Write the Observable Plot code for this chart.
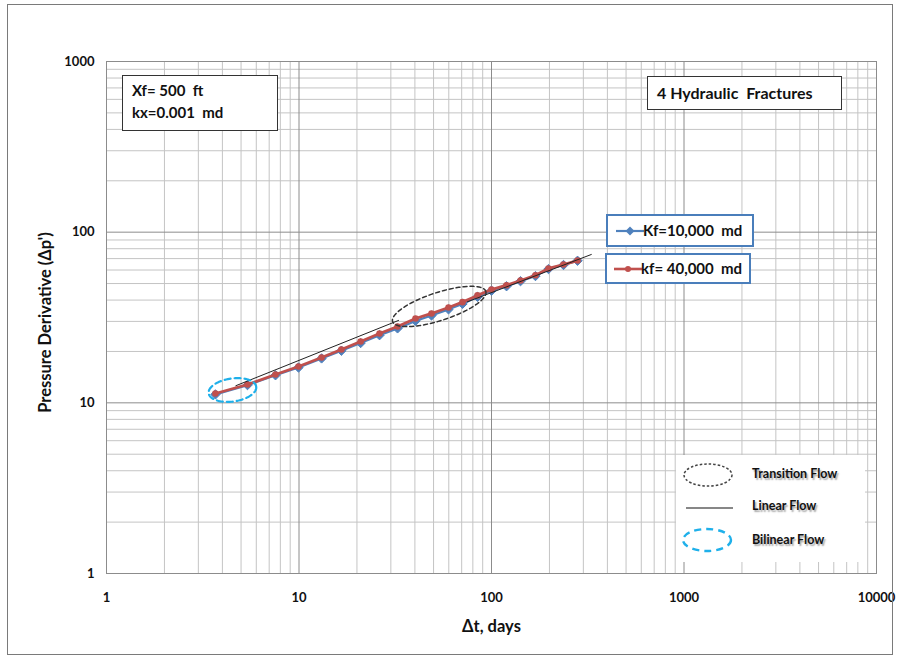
<!DOCTYPE html>
<html><head><meta charset="utf-8">
<script src="https://cdn.jsdelivr.net/npm/d3@7"></script>
<script src="https://cdn.jsdelivr.net/npm/@observablehq/plot@0.6"></script>
<style>
body{margin:0;background:#fff;font-family:Lato,"Liberation Sans",sans-serif;}
#wrap{position:relative;width:900px;height:659px;overflow:hidden;background:#fff;}
#wrap svg.plotsvg{position:absolute;left:0;top:0;}
#outer{position:absolute;left:7px;top:4px;width:886px;height:651px;border:1.5px solid #7a7a7a;box-sizing:border-box;pointer-events:none;}
.box{position:absolute;background:#fff;box-sizing:border-box;font-weight:bold;color:#111;white-space:pre;}
.abs{position:absolute;white-space:pre;font-weight:bold;color:#111;}
.shadow{text-shadow:1.5px 1.5px 1.5px rgba(0,0,0,0.35);font-size:12.5px;}
</style></head><body><div id="wrap"><div id="outer"></div></div>
<script>
// ---- data ----
const dtDays = [3.68, 5.40, 7.55, 9.94, 13.1, 16.6, 20.9, 26.2, 32.5, 40.3, 48.8, 59.8, 70.7, 84.6, 100, 119.7, 141.5, 169.2, 197.7, 236.6, 279.8];
const dpKf10000 = [11.2, 12.7, 14.5, 16.1, 18.2, 20.2, 22.4, 24.9, 27.3, 30.2, 32.5, 35.3, 38.0, 41.8, 45.4, 48.2, 51.6, 55.3, 60.8, 64.2, 68.0];
const dpKf40000 = [11.34, 12.81, 14.66, 16.33, 18.44, 20.53, 22.87, 25.48, 28.0, 31.2, 33.4, 36.2, 38.9, 42.6, 46.1, 48.9, 52.1, 55.9, 61.3, 64.6, 68.2];
const linearFlow1Dt = [4.7, 32.9];
const linearFlow1Dp = [12.6, 30.4];
const linearFlow2Dt = [75, 330];
const linearFlow2Dp = [39.1, 74.0];
const transitionCenter = [53.5, 36.7];   // dt, dp
const bilinearCenter = [4.51, 11.89];    // dt, dp
const xTickValues = [1, 10, 100, 1000, 10000];
const yTickValues = [1, 10, 100, 1000];

// ---- layout ----
const W = 900, H = 659, ML = 106, MR = 24, MT = 61, MB = 86;
const pxPerDecX = (W - ML - MR) / 4;
const pxPerDecY = (H - MT - MB) / 3;

const seriesBlue = dtDays.map((d, i) => ({dt: d, dp: dpKf10000[i]}));
const seriesRed = dtDays.map((d, i) => ({dt: d, dp: dpKf40000[i]}));
const lin1 = linearFlow1Dt.map((d, i) => ({dt: d, dp: linearFlow1Dp[i]}));
const lin2 = linearFlow2Dt.map((d, i) => ({dt: d, dp: linearFlow2Dp[i]}));

function ellipse(center, a, b, angDeg) {
  const phi = angDeg * Math.PI / 180, pts = [];
  for (let i = 0; i <= 96; i++) {
    const t = i / 96 * 2 * Math.PI;
    const ex = a * Math.cos(t), ey = b * Math.sin(t);
    const dx = ex * Math.cos(phi) - ey * Math.sin(phi);
    const dy = ex * Math.sin(phi) + ey * Math.cos(phi);
    pts.push({dt: center[0] * Math.pow(10, dx / pxPerDecX), dp: center[1] * Math.pow(10, -dy / pxPerDecY)});
  }
  return pts;
}

const minorX = [], minorY = [];
[1, 10, 100, 1000].forEach(d => { for (let k = 2; k <= 9; k++) minorX.push(d * k); });
[1, 10, 100].forEach(d => { for (let k = 2; k <= 9; k++) minorY.push(d * k); });

const blue = "#4F81BD", red = "#C0504D";

const svg = Plot.plot({
  width: W, height: H,
  marginLeft: ML, marginRight: MR, marginTop: MT, marginBottom: MB,
  style: {fontFamily: "Lato, 'Liberation Sans', sans-serif", fontSize: "13px", fontWeight: "bold", color: "#111", background: "transparent"},
  x: {type: "log", domain: [1, 10000]},
  y: {type: "log", domain: [1, 1000]},
  marks: [
    Plot.ruleX(minorX, {stroke: "#c4c4c4", strokeWidth: 1}),
    Plot.ruleY(minorY, {stroke: "#c4c4c4", strokeWidth: 1}),
    Plot.ruleX([10, 100, 1000], {stroke: "#8c8c8c", strokeWidth: 1}),
    Plot.ruleY([10, 100], {stroke: "#8c8c8c", strokeWidth: 1}),
    Plot.frame({stroke: "#8c8c8c"}),
    Plot.axisX({ticks: xTickValues, tickFormat: d => String(d), tickSize: 0, tickPadding: 19, label: null, fontSize: 13}),
    Plot.axisY({ticks: yTickValues, tickFormat: d => String(d), tickSize: 0, tickPadding: 12, label: null, fontSize: 13}),
    Plot.text(["Δt, days"], {frameAnchor: "bottom", dy: 58, fontSize: 16.5, fontWeight: "bold"}),
    Plot.text(["Pressure Derivative (Δp')"], {frameAnchor: "left", textAnchor: "middle", dx: -61, dy: 5, rotate: -90, fontSize: 16.5, fontWeight: "bold"}),
    Plot.line(seriesBlue, {x: "dt", y: "dp", stroke: blue, strokeWidth: 2.2}),
    Plot.dot(seriesBlue, {x: "dt", y: "dp", symbol: "diamond2", r: 4.2, fill: blue, stroke: blue, strokeWidth: 1}),
    Plot.line(seriesRed, {x: "dt", y: "dp", stroke: red, strokeWidth: 2.8}),
    Plot.dot(seriesRed, {x: "dt", y: "dp", symbol: "circle", r: 3.3, fill: red, stroke: "none"}),
    Plot.line(lin1, {x: "dt", y: "dp", stroke: "#222", strokeWidth: 1}),
    Plot.line(lin2, {x: "dt", y: "dp", stroke: "#222", strokeWidth: 1}),
    Plot.line(ellipse(transitionCenter, 49, 14, -18), {x: "dt", y: "dp", stroke: "#333", strokeWidth: 1.5, strokeDasharray: "4,3"}),
    Plot.line(ellipse(bilinearCenter, 24, 11.5, -8), {x: "dt", y: "dp", stroke: "#1FB0EA", strokeWidth: 2.2, strokeDasharray: "6,4"})
  ]
});
svg.classList.add("plotsvg");
const wrap = document.getElementById("wrap");
wrap.insertBefore(svg, wrap.firstChild);

function addHTML(html) { wrap.insertAdjacentHTML("beforeend", html); }

// Xf / kx box
addHTML(`<div class="box" style="left:122px;top:75px;width:156px;height:56px;border:1px solid #333;font-size:15px;">
<div class="abs" style="left:9px;top:5px;">Xf= 500  ft</div>
<div class="abs" style="left:9px;top:27px;">kx=0.001  md</div></div>`);
// 4 Hydraulic Fractures box
addHTML(`<div class="box" style="left:647px;top:76px;width:195px;height:34px;border:1px solid #333;font-size:16px;">
<div class="abs" style="left:9px;top:6px;">4 Hydraulic  Fractures</div></div>`);
// series legend boxes
addHTML(`<div class="box" style="left:606px;top:214px;width:148px;height:33px;border:2px solid #4A7EBB;font-size:15px;">
<svg style="position:absolute;left:6px;top:6px" width="32" height="18"><line x1="2" y1="9" x2="30" y2="9" stroke="${blue}" stroke-width="2.2"/><path d="M16,4.5 L20.5,9 L16,13.5 L11.5,9 Z" fill="${blue}"/></svg>
<div class="abs" style="left:35px;top:5px;">Kf=10,000  md</div></div>`);
addHTML(`<div class="box" style="left:605px;top:253px;width:146px;height:31px;border:2px solid #4A7EBB;font-size:15px;">
<svg style="position:absolute;left:5px;top:5px" width="32" height="18"><line x1="2" y1="9" x2="30" y2="9" stroke="${red}" stroke-width="2.6"/><circle cx="16" cy="9" r="3" fill="${red}"/></svg>
<div class="abs" style="left:34px;top:4px;">kf= 40,000  md</div></div>`);
// flow-regime legend
addHTML(`<div class="box" style="left:676px;top:455px;width:189px;height:107px;">
<svg style="position:absolute;left:0;top:0" width="189" height="107">
<ellipse cx="32" cy="20" rx="24" ry="11" fill="none" stroke="#444" stroke-width="1.5" stroke-dasharray="2.5,2"/>
<line x1="10" y1="53" x2="57" y2="53" stroke="#111" stroke-width="1.2"/>
<ellipse cx="31" cy="85" rx="24" ry="11" fill="none" stroke="#1FB0EA" stroke-width="2.4" stroke-dasharray="7,5"/>
</svg>
<div class="abs shadow" style="left:76px;top:11px;">Transition Flow</div>
<div class="abs shadow" style="left:76px;top:43px;">Linear Flow</div>
<div class="abs shadow" style="left:76px;top:77px;">Bilinear Flow</div>
</div>`);
</script></body></html>
